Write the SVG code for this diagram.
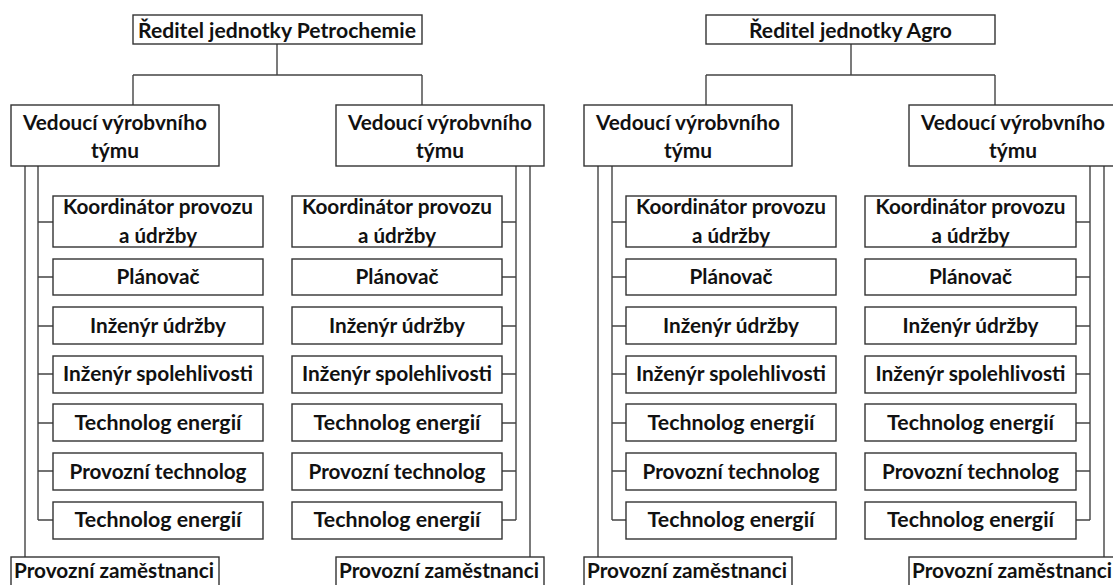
<svg xmlns="http://www.w3.org/2000/svg" width="1113" height="585" viewBox="0 0 1113 585">
<style>
.b{fill:#fff;stroke:#333;stroke-width:1.4}
.t{font-family:Lato,"Liberation Sans",sans-serif;font-weight:bold;font-size:21px;fill:#111;text-anchor:middle}
.c{fill:none;stroke:#444;stroke-width:1.4}
</style>
<rect width="1113" height="585" fill="#fff"/>
<g id="connectors">
<path class="c" d="M277,44V75M133,75H422M133,75V105M422,75V105"/>
<path class="c" d="M25,166V557M38,166V520M38,222H53M38,277H53M38,326H53M38,374H53M38,423H53M38,471H53M38,520H53"/>
<path class="c" d="M530,166V557M516,166V520M502,222H516M502,277H516M502,326H516M502,374H516M502,423H516M502,471H516M502,520H516"/>
<path class="c" d="M851,44V75M706,75H995M706,75V105M995,75V105"/>
<path class="c" d="M598,166V557M612,166V520M612,222H626M612,277H626M612,326H626M612,374H626M612,423H626M612,471H626M612,520H626"/>
<path class="c" d="M1104,166V557M1090,166V520M1076,222H1090M1076,277H1090M1076,326H1090M1076,374H1090M1076,423H1090M1076,471H1090M1076,520H1090"/>
</g>
<!-- Left half: Petrochemie -->
<g id="reditel-petrochemie"><rect class="b" x="133" y="15" width="289" height="29"/><text class="t" x="277" y="38" textLength="278" lengthAdjust="spacingAndGlyphs">Ředitel jednotky Petrochemie</text></g>
<g id="p-vedouci-1"><rect class="b" x="11" y="105" width="208" height="61"/><text class="t" x="115" y="129.5" textLength="184" lengthAdjust="spacingAndGlyphs">Vedoucí výrobvního</text><text class="t" x="115" y="157.5" textLength="48" lengthAdjust="spacingAndGlyphs">týmu</text></g>
<g id="p-vedouci-2"><rect class="b" x="336" y="105" width="208" height="61"/><text class="t" x="440" y="129.5" textLength="184" lengthAdjust="spacingAndGlyphs">Vedoucí výrobvního</text><text class="t" x="440" y="157.5" textLength="48" lengthAdjust="spacingAndGlyphs">týmu</text></g>
<g id="p1-koordinator"><rect class="b" x="53" y="196" width="210" height="51"/><text class="t" x="158" y="213.5" textLength="190" lengthAdjust="spacingAndGlyphs">Koordinátor provozu</text><text class="t" x="158" y="243" textLength="78" lengthAdjust="spacingAndGlyphs">a údržby</text></g>
<g id="p1-planovac"><rect class="b" x="53" y="259" width="210" height="36"/><text class="t" x="158" y="284" textLength="83" lengthAdjust="spacingAndGlyphs">Plánovač</text></g>
<g id="p1-inzenyr-udrzby"><rect class="b" x="53" y="307" width="210" height="37"/><text class="t" x="158" y="332.5" textLength="136" lengthAdjust="spacingAndGlyphs">Inženýr údržby</text></g>
<g id="p1-inzenyr-spolehlivosti"><rect class="b" x="53" y="356" width="210" height="37"/><text class="t" x="158" y="381" textLength="190" lengthAdjust="spacingAndGlyphs">Inženýr spolehlivosti</text></g>
<g id="p1-technolog-1"><rect class="b" x="53" y="404" width="210" height="37"/><text class="t" x="158" y="430" textLength="167" lengthAdjust="spacingAndGlyphs">Technolog energií</text></g>
<g id="p1-provozni-technolog"><rect class="b" x="53" y="453" width="210" height="37"/><text class="t" x="158" y="478.5" textLength="177" lengthAdjust="spacingAndGlyphs">Provozní technolog</text></g>
<g id="p1-technolog-2"><rect class="b" x="53" y="502" width="210" height="37"/><text class="t" x="158" y="527" textLength="167" lengthAdjust="spacingAndGlyphs">Technolog energií</text></g>
<g id="p2-koordinator"><rect class="b" x="292" y="196" width="210" height="51"/><text class="t" x="397" y="213.5" textLength="190" lengthAdjust="spacingAndGlyphs">Koordinátor provozu</text><text class="t" x="397" y="243" textLength="78" lengthAdjust="spacingAndGlyphs">a údržby</text></g>
<g id="p2-planovac"><rect class="b" x="292" y="259" width="210" height="36"/><text class="t" x="397" y="284" textLength="83" lengthAdjust="spacingAndGlyphs">Plánovač</text></g>
<g id="p2-inzenyr-udrzby"><rect class="b" x="292" y="307" width="210" height="37"/><text class="t" x="397" y="332.5" textLength="136" lengthAdjust="spacingAndGlyphs">Inženýr údržby</text></g>
<g id="p2-inzenyr-spolehlivosti"><rect class="b" x="292" y="356" width="210" height="37"/><text class="t" x="397" y="381" textLength="190" lengthAdjust="spacingAndGlyphs">Inženýr spolehlivosti</text></g>
<g id="p2-technolog-1"><rect class="b" x="292" y="404" width="210" height="37"/><text class="t" x="397" y="430" textLength="167" lengthAdjust="spacingAndGlyphs">Technolog energií</text></g>
<g id="p2-provozni-technolog"><rect class="b" x="292" y="453" width="210" height="37"/><text class="t" x="397" y="478.5" textLength="177" lengthAdjust="spacingAndGlyphs">Provozní technolog</text></g>
<g id="p2-technolog-2"><rect class="b" x="292" y="502" width="210" height="37"/><text class="t" x="397" y="527" textLength="167" lengthAdjust="spacingAndGlyphs">Technolog energií</text></g>
<g id="p1-zamestnanci"><rect class="b" x="11" y="557" width="208" height="40"/><text class="t" x="114" y="578" textLength="200" lengthAdjust="spacingAndGlyphs">Provozní zaměstnanci</text></g>
<g id="p2-zamestnanci"><rect class="b" x="336" y="557" width="208" height="40"/><text class="t" x="439" y="578" textLength="200" lengthAdjust="spacingAndGlyphs">Provozní zaměstnanci</text></g>
<!-- Right half: Agro -->
<g id="reditel-agro"><rect class="b" x="706" y="15" width="289" height="29"/><text class="t" x="850.5" y="38" textLength="203" lengthAdjust="spacingAndGlyphs">Ředitel jednotky Agro</text></g>
<g id="a-vedouci-1"><rect class="b" x="584" y="105" width="208" height="61"/><text class="t" x="688" y="129.5" textLength="184" lengthAdjust="spacingAndGlyphs">Vedoucí výrobvního</text><text class="t" x="688" y="157.5" textLength="48" lengthAdjust="spacingAndGlyphs">týmu</text></g>
<g id="a-vedouci-2"><rect class="b" x="909" y="105" width="208" height="61"/><text class="t" x="1013" y="129.5" textLength="184" lengthAdjust="spacingAndGlyphs">Vedoucí výrobvního</text><text class="t" x="1013" y="157.5" textLength="48" lengthAdjust="spacingAndGlyphs">týmu</text></g>
<g id="a1-koordinator"><rect class="b" x="626" y="196" width="210" height="51"/><text class="t" x="731" y="213.5" textLength="190" lengthAdjust="spacingAndGlyphs">Koordinátor provozu</text><text class="t" x="731" y="243" textLength="78" lengthAdjust="spacingAndGlyphs">a údržby</text></g>
<g id="a1-planovac"><rect class="b" x="626" y="259" width="210" height="36"/><text class="t" x="731" y="284" textLength="83" lengthAdjust="spacingAndGlyphs">Plánovač</text></g>
<g id="a1-inzenyr-udrzby"><rect class="b" x="626" y="307" width="210" height="37"/><text class="t" x="731" y="332.5" textLength="136" lengthAdjust="spacingAndGlyphs">Inženýr údržby</text></g>
<g id="a1-inzenyr-spolehlivosti"><rect class="b" x="626" y="356" width="210" height="37"/><text class="t" x="731" y="381" textLength="190" lengthAdjust="spacingAndGlyphs">Inženýr spolehlivosti</text></g>
<g id="a1-technolog-1"><rect class="b" x="626" y="404" width="210" height="37"/><text class="t" x="731" y="430" textLength="167" lengthAdjust="spacingAndGlyphs">Technolog energií</text></g>
<g id="a1-provozni-technolog"><rect class="b" x="626" y="453" width="210" height="37"/><text class="t" x="731" y="478.5" textLength="177" lengthAdjust="spacingAndGlyphs">Provozní technolog</text></g>
<g id="a1-technolog-2"><rect class="b" x="626" y="502" width="210" height="37"/><text class="t" x="731" y="527" textLength="167" lengthAdjust="spacingAndGlyphs">Technolog energií</text></g>
<g id="a2-koordinator"><rect class="b" x="865" y="196" width="211" height="51"/><text class="t" x="970.5" y="213.5" textLength="190" lengthAdjust="spacingAndGlyphs">Koordinátor provozu</text><text class="t" x="970.5" y="243" textLength="78" lengthAdjust="spacingAndGlyphs">a údržby</text></g>
<g id="a2-planovac"><rect class="b" x="865" y="259" width="211" height="36"/><text class="t" x="970.5" y="284" textLength="83" lengthAdjust="spacingAndGlyphs">Plánovač</text></g>
<g id="a2-inzenyr-udrzby"><rect class="b" x="865" y="307" width="211" height="37"/><text class="t" x="970.5" y="332.5" textLength="136" lengthAdjust="spacingAndGlyphs">Inženýr údržby</text></g>
<g id="a2-inzenyr-spolehlivosti"><rect class="b" x="865" y="356" width="211" height="37"/><text class="t" x="970.5" y="381" textLength="190" lengthAdjust="spacingAndGlyphs">Inženýr spolehlivosti</text></g>
<g id="a2-technolog-1"><rect class="b" x="865" y="404" width="211" height="37"/><text class="t" x="970.5" y="430" textLength="167" lengthAdjust="spacingAndGlyphs">Technolog energií</text></g>
<g id="a2-provozni-technolog"><rect class="b" x="865" y="453" width="211" height="37"/><text class="t" x="970.5" y="478.5" textLength="177" lengthAdjust="spacingAndGlyphs">Provozní technolog</text></g>
<g id="a2-technolog-2"><rect class="b" x="865" y="502" width="211" height="37"/><text class="t" x="970.5" y="527" textLength="167" lengthAdjust="spacingAndGlyphs">Technolog energií</text></g>
<g id="a1-zamestnanci"><rect class="b" x="584" y="557" width="208" height="40"/><text class="t" x="687" y="578" textLength="200" lengthAdjust="spacingAndGlyphs">Provozní zaměstnanci</text></g>
<g id="a2-zamestnanci"><rect class="b" x="909" y="557" width="208" height="40"/><text class="t" x="1012" y="578" textLength="200" lengthAdjust="spacingAndGlyphs">Provozní zaměstnanci</text></g>
</svg>
